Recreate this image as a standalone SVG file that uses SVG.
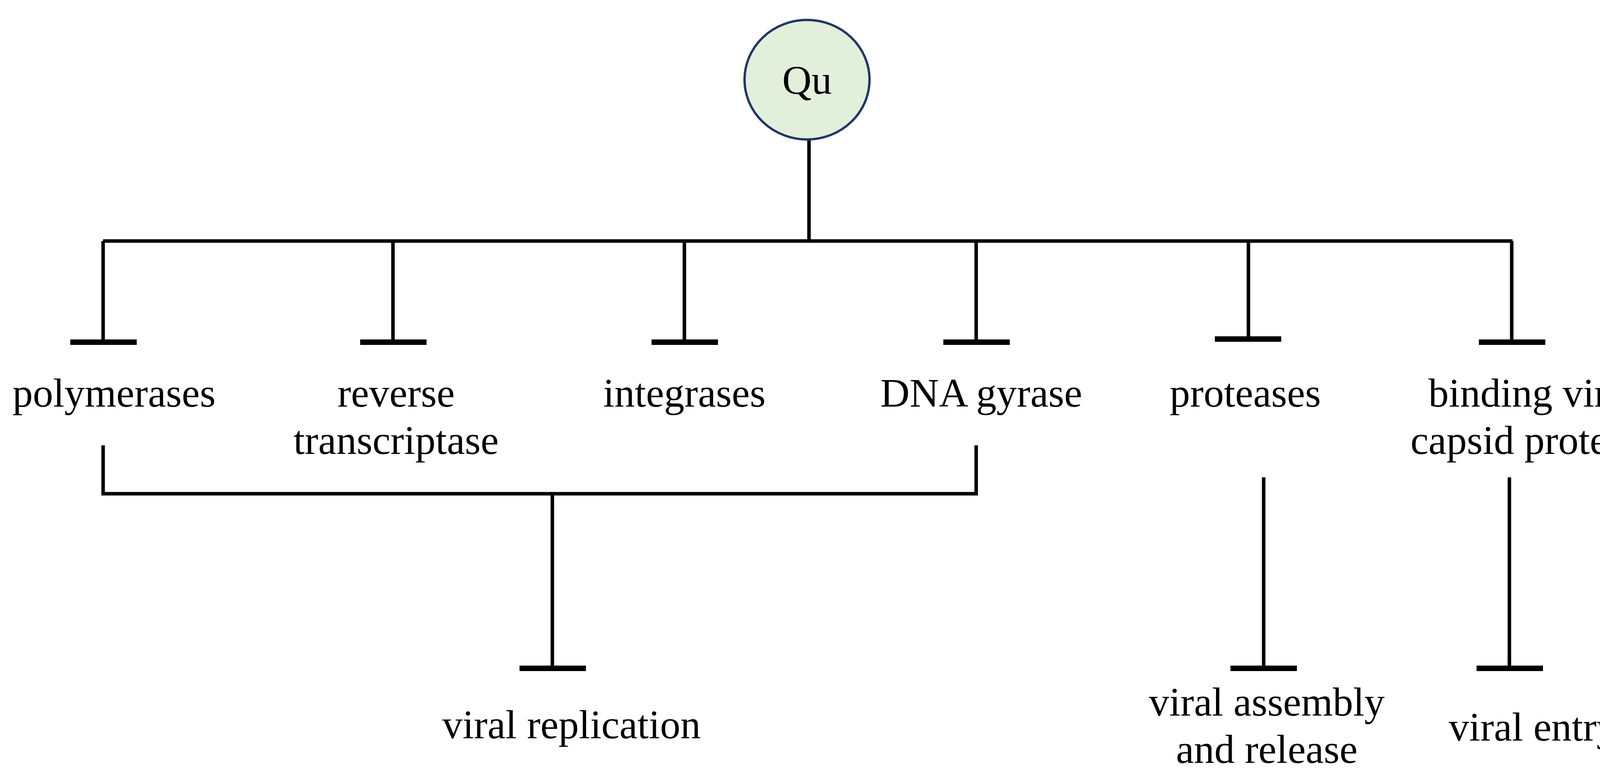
<svg xmlns="http://www.w3.org/2000/svg" width="4273" height="2002" viewBox="0 0 4273 2002">
<style>
.l{stroke:#000;stroke-width:9;fill:none}
.b{stroke:#000;stroke-width:14}
text{font-family:"Liberation Serif","Times New Roman",serif;font-size:104px;fill:#000;text-anchor:middle}
</style>
<rect width="4273" height="2002" fill="#fff"/>
<g id="connectors">
<path class="l" d="M2071 358V617M264 617H3872M264 617V876M1006 617V876M1752 617V876M2499 617V876M3196 617V868M3870 617V876"/>
<path class="b" d="M180 876H350M922 876H1092M1668 876H1838M2415 876H2585M3110 868H3280M3786 876H3956"/>
<path class="l" d="M264 1140V1264H2499V1140M1414 1264V1711M3235 1222V1711M3864 1222V1711"/>
<path class="b" d="M1330 1711H1500M3150 1711H3320M3780 1711H3950"/>
</g>
<g id="qu"><ellipse cx="2066" cy="204" rx="160" ry="153" fill="#e2efda" stroke="#1f3864" stroke-width="6"/><text x="2066" y="240">Qu</text></g>
<g id="polymerases"><text x="292" y="1041">polymerases</text></g>
<g id="rt"><text x="1014" y="1041">reverse</text><text x="1014" y="1162">transcriptase</text></g>
<g id="integrases"><text x="1752" y="1041">integrases</text></g>
<g id="gyrase"><text x="2512" y="1041">DNA gyrase</text></g>
<g id="proteases"><text x="3188" y="1041">proteases</text></g>
<g id="capsid"><text x="3924" y="1041">binding viral</text><text x="3924" y="1162">capsid proteins</text></g>
<g id="replication"><text x="1463" y="1890">viral replication</text></g>
<g id="assembly"><text x="3243" y="1832">viral assembly</text><text x="3243" y="1953">and release</text></g>
<g id="entry"><text x="3924" y="1896">viral entry</text></g>
</svg>
